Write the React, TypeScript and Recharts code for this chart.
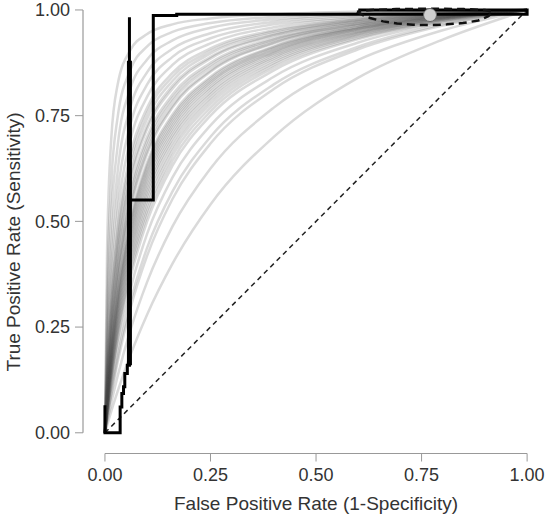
import React from 'react';
import { LineChart, Line, XAxis, YAxis, ReferenceLine, ReferenceDot, Label } from 'recharts';

// shared FPR grid for the gray model curves
const fprGrid = [0, 0.005, 0.015, 0.03, 0.06, 0.1, 0.16, 0.25, 0.4, 0.6, 0.8, 1];

// TPR of each gray curve at the FPR grid
const curveTpr = [
  [0, .017, .051, .098, .183, .28, .40, .54, .70, .84, .93, 1],
  [0, .025, .071, .134, .242, .357, .488, .625, .769, .882, .952, 1],
  [0, .032, .09, .167, .293, .419, .553, .684, .813, .907, .963, 1],
  [0, .034, .096, .178, .309, .438, .571, .7, .824, .913, .966, 1],
  [0, .039, .109, .198, .338, .471, .604, .727, .842, .923, .97, 1],
  [0, .043, .121, .218, .365, .5, .632, .75, .857, .931, .973, 1],
  [0, .046, .126, .227, .378, .514, .644, .76, .864, .934, .974, 1],
  [0, .048, .132, .236, .39, .526, .656, .769, .87, .938, .976, 1],
  [0, .05, .138, .245, .401, .538, .667, .778, .875, .94, .977, 1],
  [0, .052, .144, .254, .413, .55, .677, .786, .88, .943, .978, 1],
  [0, .055, .149, .262, .423, .561, .687, .793, .885, .945, .979, 1],
  [0, .057, .155, .271, .434, .571, .696, .8, .889, .947, .98, 1],
  [0, .059, .16, .279, .444, .581, .704, .806, .893, .949, .98, 1],
  [0, .061, .165, .287, .454, .591, .712, .813, .897, .951, .981, 1],
  [0, .064, .171, .295, .463, .6, .72, .818, .9, .953, .982, 1],
  [0, .066, .176, .302, .472, .609, .727, .824, .903, .955, .982, 1],
  [0, .068, .181, .31, .481, .617, .734, .829, .906, .956, .983, 1],
  [0, .07, .186, .317, .489, .625, .741, .833, .909, .957, .984, 1],
  [0, .072, .191, .324, .497, .633, .747, .838, .912, .959, .984, 1],
  [0, .074, .196, .331, .505, .64, .753, .842, .914, .96, .985, 1],
  [0, .081, .21, .351, .528, .66, .769, .854, .921, .963, .986, 1],
  [0, .083, .215, .358, .535, .667, .774, .857, .923, .964, .986, 1],
  [0, .087, .224, .37, .548, .679, .784, .864, .927, .966, .987, 1],
  [0, .091, .234, .382, .561, .69, .792, .87, .93, .968, .988, 1],
  [0, .096, .242, .394, .573, .7, .8, .875, .933, .969, .988, 1],
  [0, .104, .259, .416, .595, .719, .814, .885, .939, .972, .989, 1],
  [0, .108, .268, .426, .605, .727, .821, .889, .941, .973, .99, 1],
  [0, .116, .284, .446, .624, .743, .832, .897, .945, .975, .99, 1],
  [0, .123, .299, .464, .641, .757, .842, .903, .949, .977, .991, 1],
  [0, .131, .314, .481, .657, .769, .851, .909, .952, .978, .992, 1],
  [0, .15, .348, .52, .691, .795, .87, .921, .959, .981, .993, 1],
  [0, .174, .39, .565, .728, .824, .889, .933, .966, .984, .994, 1],
  [0, .207, .442, .617, .769, .853, .908, .945, .972, .987, .995, 1],
  [0, .255, .509, .678, .813, .883, .928, .958, .978, .99, .996, 1],
  [0, .323, .591, .746, .858, .914, .948, .969, .984, .993, .997, 1],
  [0, .43, .696, .823, .905, .943, .966, .98, .99, .996, .998, 1],
];

// empirical step curves (black)
const stepAFpr = [0, 0, 0.036, 0.036, 0.040, 0.040, 0.044, 0.044, 0.047, 0.047, 0.053, 0.053, 0.058, 0.058];
const stepATpr = [0.065, 0, 0, 0.061, 0.061, 0.093, 0.093, 0.109, 0.109, 0.14, 0.14, 0.16, 0.16, 0.983];
const boldFpr = [0.058, 0.058];
const boldTpr = [0.16, 0.88];
const stepBFpr = [0.058, 0.1145, 0.1145, 0.17, 0.17, 1, 1, 0.6];
const stepBTpr = [0.5505, 0.5505, 0.987, 0.987, 0.99, 0.99, 1, 1];

// confidence region (dashed)
const ellFpr = [0.597, 0.612, 0.628, 0.659, 0.692, 0.73, 0.77, 0.81, 0.848, 0.884, 0.908, 0.919, 0.9, 0.85, 0.77, 0.69, 0.63, 0.597];
const ellTpr = [0.996, 0.987, 0.981, 0.973, 0.968, 0.965, 0.964, 0.966, 0.969, 0.975, 0.985, 0.995, 1.0, 1.002, 1.003, 1.002, 1.0, 0.996];

// summary point
const summaryFpr = 0.77;
const summaryTpr = 0.988;

const diagFpr = [0, 1];
const diagTpr = [0, 1];

const axisTicks = [0, 0.25, 0.5, 0.75, 1];

const xMin = -0.052, xMax = 1.04;
const yMin = -0.049, yMax = 1.02;

const font = 'Liberation Sans, Arial, sans-serif';

const toPts = (xs: number[], ys: number[]) => xs.map((x, i) => ({ x, y: ys[i] }));

export default function App() {
  const curves = curveTpr.map(row => toPts(fprGrid, row));
  const tickStyle = { fontSize: 18, fill: '#333', fontFamily: font };
  return (
    <div style={{ position: 'absolute', left: 0, top: 0, width: 548, height: 525, background: '#fff' }}>
      <LineChart width={548} height={525} margin={{ top: 1.5, right: 4, bottom: 11.5, left: 0 }}>
        <XAxis
          type="number" dataKey="x" domain={[xMin, xMax]} ticks={axisTicks} interval={0}
          height={60} axisLine={false} tickSize={8} tickMargin={7}
          tickLine={{ stroke: '#999' }} tick={tickStyle}
          tickFormatter={(v: number) => v.toFixed(2)}
        >
          <Label content={() => (
            <text x={316} y={510} textAnchor="middle" fontSize={19} fill="#333" fontFamily={font}>
              False Positive Rate (1-Specificity)
            </text>
          )} />
        </XAxis>
        <YAxis
          type="number" domain={[yMin, yMax]} ticks={axisTicks} interval={0}
          width={83} axisLine={false} tickSize={8} tickMargin={5}
          tickLine={{ stroke: '#999' }} tick={tickStyle}
          tickFormatter={(v: number) => v.toFixed(2)}
        >
          <Label content={() => (
            <text x={20} y={242} transform="rotate(-90 20 242)" textAnchor="middle" fontSize={19} fill="#333" fontFamily={font}>
              True Positive Rate (Sensitivity)
            </text>
          )} />
        </YAxis>

        <ReferenceLine segment={[{ x: 0, y: yMin }, { x: 1, y: yMin }]} stroke="#999" strokeWidth={1.2} />
        <ReferenceLine segment={[{ x: xMin, y: 0 }, { x: xMin, y: 1 }]} stroke="#999" strokeWidth={1.2} />

        {curves.map((pts, i) => (
          <Line key={'c' + i} data={pts} dataKey="y" type="monotoneX" dot={false} activeDot={false}
            stroke="#444" strokeOpacity={0.2} strokeWidth={2.5} isAnimationActive={false} />
        ))}

        <Line data={toPts(diagFpr, diagTpr)} dataKey="y" type="linear" dot={false} activeDot={false}
          stroke="#222" strokeWidth={1.5} strokeDasharray="5 4" isAnimationActive={false} />

        <Line data={toPts(stepAFpr, stepATpr)} dataKey="y" type="linear" dot={false} activeDot={false}
          stroke="#000" strokeWidth={3} strokeLinejoin="miter" isAnimationActive={false} />
        <Line data={toPts(boldFpr, boldTpr)} dataKey="y" type="linear" dot={false} activeDot={false}
          stroke="#000" strokeWidth={5} isAnimationActive={false} />
        <Line data={toPts(stepBFpr, stepBTpr)} dataKey="y" type="linear" dot={false} activeDot={false}
          stroke="#000" strokeWidth={3} strokeLinejoin="miter" isAnimationActive={false} />

        <Line data={toPts(ellFpr, ellTpr)} dataKey="y" type="linear" dot={false} activeDot={false}
          stroke="#111" strokeWidth={2.5} strokeDasharray="8 5" isAnimationActive={false} />

        <ReferenceDot x={summaryFpr} y={summaryTpr} r={6.5} fill="#cfcfcf" stroke="#666" strokeWidth={1} />
      </LineChart>
    </div>
  );
}
